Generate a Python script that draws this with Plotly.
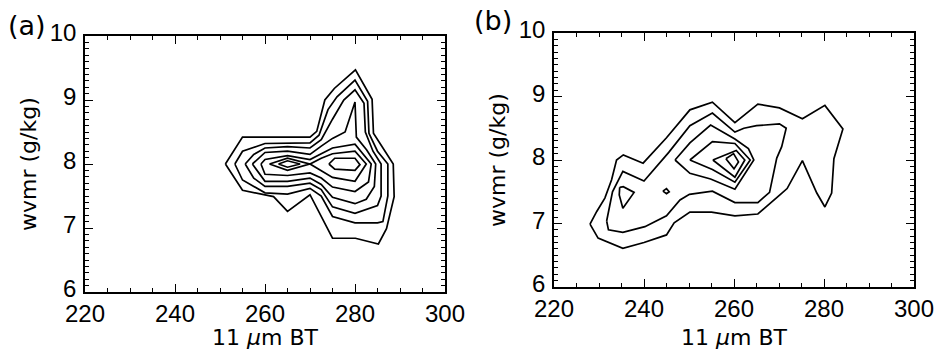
import plotly.graph_objects as go

# ---------------- Panel (a): contour lines (BT in K, wvmr in g/kg) ----------------
A1_BT = [251.2, 255.0, 270.0, 271.5, 273.3, 275.4, 280.1, 283.8, 284.1, 288.5, 288.7, 287.0, 285.2, 280.1, 275.0, 270.0, 265.0, 261.9, 255.0, 251.2]
A1_WV = [8.00, 8.42, 8.42, 8.51, 9.00, 9.18, 9.47, 9.01, 8.48, 8.00, 7.49, 6.99, 6.75, 6.84, 6.84, 7.52, 7.26, 7.49, 7.59, 8.00]

A2_BT = [253.3, 255.0, 260.0, 265.0, 270.0, 272.0, 274.0, 276.0, 280.0, 282.8, 283.1, 285.0, 287.3, 287.3, 286.2, 285.0, 280.0, 275.0, 272.5, 270.0, 265.0, 260.0, 255.0, 253.3]
A2_WV = [8.00, 8.20, 8.32, 8.33, 8.33, 8.45, 8.85, 9.05, 9.31, 8.98, 8.48, 8.20, 8.00, 7.50, 7.10, 7.08, 7.08, 7.18, 7.50, 7.62, 7.53, 7.55, 7.75, 8.00]

A3_BT = [255.6, 257.5, 260.0, 265.0, 270.0, 272.5, 275.0, 277.5, 280.0, 282.0, 282.3, 284.0, 285.8, 285.8, 285.0, 280.0, 275.0, 272.5, 270.0, 265.0, 260.0, 257.5, 255.6]
A3_WV = [8.00, 8.15, 8.25, 8.27, 8.25, 8.38, 8.70, 9.00, 9.16, 8.95, 8.50, 8.20, 8.00, 7.50, 7.35, 7.23, 7.33, 7.60, 7.70, 7.65, 7.65, 7.78, 8.00]

A4_BT = [257.2, 260.0, 265.0, 270.0, 272.5, 275.0, 277.8, 280.0, 280.3, 282.6, 284.6, 284.3, 282.5, 280.0, 275.0, 272.5, 270.0, 265.0, 260.0, 257.2]
A4_WV = [8.00, 8.18, 8.20, 8.15, 8.28, 8.40, 8.50, 8.97, 8.42, 8.22, 8.00, 7.65, 7.45, 7.38, 7.48, 7.68, 7.78, 7.73, 7.73, 8.00]

A5_BT = [259.1, 260.0, 265.0, 270.0, 272.5, 275.0, 280.0, 283.6, 283.0, 280.0, 275.0, 272.5, 270.0, 265.0, 260.0, 259.1]
A5_WV = [8.00, 8.07, 8.13, 8.07, 8.16, 8.25, 8.31, 8.00, 7.72, 7.57, 7.64, 7.78, 7.86, 7.82, 7.84, 8.00]

A6_BT = [261.0, 265.0, 270.0, 272.5, 275.0, 280.0, 282.5, 280.0, 275.0, 272.5, 270.0, 265.0, 261.0]
A6_WV = [8.00, 8.09, 8.00, 8.09, 8.16, 8.20, 8.00, 7.73, 7.79, 7.90, 8.00, 7.90, 8.00]

A7L_BT = [263.0, 265.0, 267.8, 265.0, 263.0]
A7L_WV = [8.00, 8.05, 8.00, 7.95, 8.00]
A7R_BT = [274.2, 275.5, 280.0, 281.1, 280.0, 275.5, 274.2]
A7R_WV = [8.00, 8.09, 8.09, 7.99, 7.90, 7.92, 8.00]

# ---------------- Panel (b) ----------------
B1_BT = [228.0, 229.5, 231.3, 232.8, 233.9, 235.4, 239.8, 245.0, 250.2, 255.2, 260.2, 265.3, 270.1, 275.2, 280.2, 284.2, 282.2, 281.7, 280.2, 278.4, 275.2, 271.8, 270.2, 265.3, 260.2, 255.0, 250.2, 246.7, 245.0, 240.0, 235.3, 229.8, 228.0]
B1_WV = [6.99, 7.19, 7.40, 7.69, 8.00, 8.08, 7.95, 8.35, 8.79, 8.91, 8.59, 8.88, 8.82, 8.65, 8.86, 8.49, 8.02, 7.48, 7.26, 7.48, 7.99, 7.55, 7.45, 7.15, 7.12, 7.18, 7.18, 7.01, 6.82, 6.70, 6.61, 6.77, 6.99]

B2_BT = [231.7, 232.1, 235.3, 240.2, 245.0, 248.0, 250.1, 255.2, 260.2, 265.3, 267.9, 268.7, 269.5, 270.6, 271.6, 270.1, 265.0, 262.2, 260.2, 255.2, 250.2, 245.5, 240.0, 235.3, 233.0, 231.7]
B2_WV = [7.04, 6.90, 6.86, 6.95, 7.12, 7.37, 7.46, 7.51, 7.33, 7.33, 7.49, 7.74, 8.03, 8.21, 8.50, 8.57, 8.54, 8.50, 8.44, 8.74, 8.54, 8.12, 7.67, 7.82, 7.50, 7.04]

B3_BT = [246.9, 250.2, 254.8, 260.2, 263.2, 264.4, 260.2, 254.8, 250.2, 246.9]
B3_WV = [8.00, 8.27, 8.55, 8.33, 8.18, 8.00, 7.54, 7.70, 7.79, 8.00]
B3T_BT = [234.6, 235.4, 237.8, 235.3, 234.5, 234.6]
B3T_WV = [7.57, 7.58, 7.49, 7.24, 7.45, 7.57]
B3S_BT = [244.2, 245.0, 245.6, 245.0, 244.2]
B3S_WV = [7.51, 7.55, 7.50, 7.47, 7.51]

B4_BT = [250.2, 255.2, 260.2, 263.6, 260.2, 255.2, 250.2]
B4_WV = [8.00, 8.29, 8.26, 8.00, 7.65, 7.85, 8.00]
B5_BT = [255.3, 260.5, 262.4, 260.2, 255.3]
B5_WV = [8.00, 8.15, 8.00, 7.73, 8.00]
B6_BT = [258.2, 259.9, 261.0, 260.0, 258.2]
B6_WV = [8.02, 8.10, 7.97, 7.86, 8.02]

X_TICKS = [220, 240, 260, 280, 300]
Y_TICKS = [6, 7, 8, 9, 10]
X_TITLE = "11 <i>μ</i>m BT"
Y_TITLE = "wvmr (g/kg)"
PANEL_LABELS = ["(a)", "(b)"]

TICK_FONT = "Liberation Sans"
TITLE_FONT = "DejaVu Sans"
W, H = 940, 356

panel_a = [(A1_BT, A1_WV), (A2_BT, A2_WV), (A3_BT, A3_WV), (A4_BT, A4_WV),
           (A5_BT, A5_WV), (A6_BT, A6_WV), (A7L_BT, A7L_WV), (A7R_BT, A7R_WV)]
panel_b = [(B1_BT, B1_WV), (B2_BT, B2_WV), (B3_BT, B3_WV), (B3T_BT, B3T_WV),
           (B3S_BT, B3S_WV), (B4_BT, B4_WV), (B5_BT, B5_WV), (B6_BT, B6_WV)]

fig = go.Figure()
for xs, ys in panel_a:
    fig.add_trace(go.Scatter(x=xs, y=ys, mode="lines", xaxis="x", yaxis="y",
                             line=dict(color="black", width=1.7), showlegend=False,
                             hoverinfo="skip"))
for xs, ys in panel_b:
    fig.add_trace(go.Scatter(x=xs, y=ys, mode="lines", xaxis="x2", yaxis="y2",
                             line=dict(color="black", width=1.7), showlegend=False,
                             hoverinfo="skip"))

# plot-area pixel boxes
box_a = (85, 445, 36, 292)   # left, right, top, bottom
box_b = (554, 914, 33, 287)


def dom(box):
    l, r, t, b = box
    return [l / W, r / W], [(H - b) / H, (H - t) / H]


xa_dom, ya_dom = dom(box_a)
xb_dom, yb_dom = dom(box_b)

common = dict(showline=True, linecolor="black", linewidth=1.6, mirror="allticks",
              ticks="inside", ticklen=8, tickwidth=1.3, tickcolor="black",
              showgrid=False, zeroline=False, automargin=False,
              tickfont=dict(family=TICK_FONT, size=24, color="black"))

xcfg = dict(common, range=[220, 300], tickvals=X_TICKS, ticklabelstandoff=-1,
            minor=dict(dtick=5, tick0=220, ticks="inside", ticklen=4, tickwidth=1, tickcolor="black", showgrid=False))
ycfg = dict(common, range=[6, 10], tickvals=Y_TICKS, ticklabelstandoff=2, ticklabelshift=-3,
            minor=dict(dtick=0.1, tick0=6, ticks="inside", ticklen=4, tickwidth=1, tickcolor="black", showgrid=False))

fig.update_layout(
    width=W, height=H, margin=dict(l=0, r=0, t=0, b=0),
    template="none", paper_bgcolor="white", plot_bgcolor="white",
    xaxis=dict(xcfg, domain=xa_dom, anchor="y"),
    yaxis=dict(ycfg, domain=ya_dom, anchor="x"),
    xaxis2=dict(xcfg, domain=xb_dom, anchor="y2"),
    yaxis2=dict(ycfg, domain=yb_dom, anchor="x2"),
)

ann = []
for box, lab, lpos in [(box_a, PANEL_LABELS[0], (27, 25)), (box_b, PANEL_LABELS[1], (493, 20))]:
    l, r, t, b = box
    ann.append(dict(text=X_TITLE, x=(l + r) / 2 / W, y=(H - 337) / H, xref="paper", yref="paper",
                    showarrow=False, xanchor="center", yanchor="middle",
                    font=dict(family=TITLE_FONT, size=22, color="black")))
    ann.append(dict(text=Y_TITLE, x=(l - 57) / W, y=(H - (t + b) / 2) / H, xref="paper", yref="paper",
                    showarrow=False, xanchor="center", yanchor="middle", textangle=-90,
                    font=dict(family=TITLE_FONT, size=22, color="black")))
    ann.append(dict(text=lab, x=lpos[0] / W, y=(H - lpos[1]) / H, xref="paper", yref="paper",
                    showarrow=False, xanchor="center", yanchor="middle",
                    font=dict(family=TITLE_FONT, size=27, color="black")))
fig.update_layout(annotations=ann)

fig.write_html("out.html")
